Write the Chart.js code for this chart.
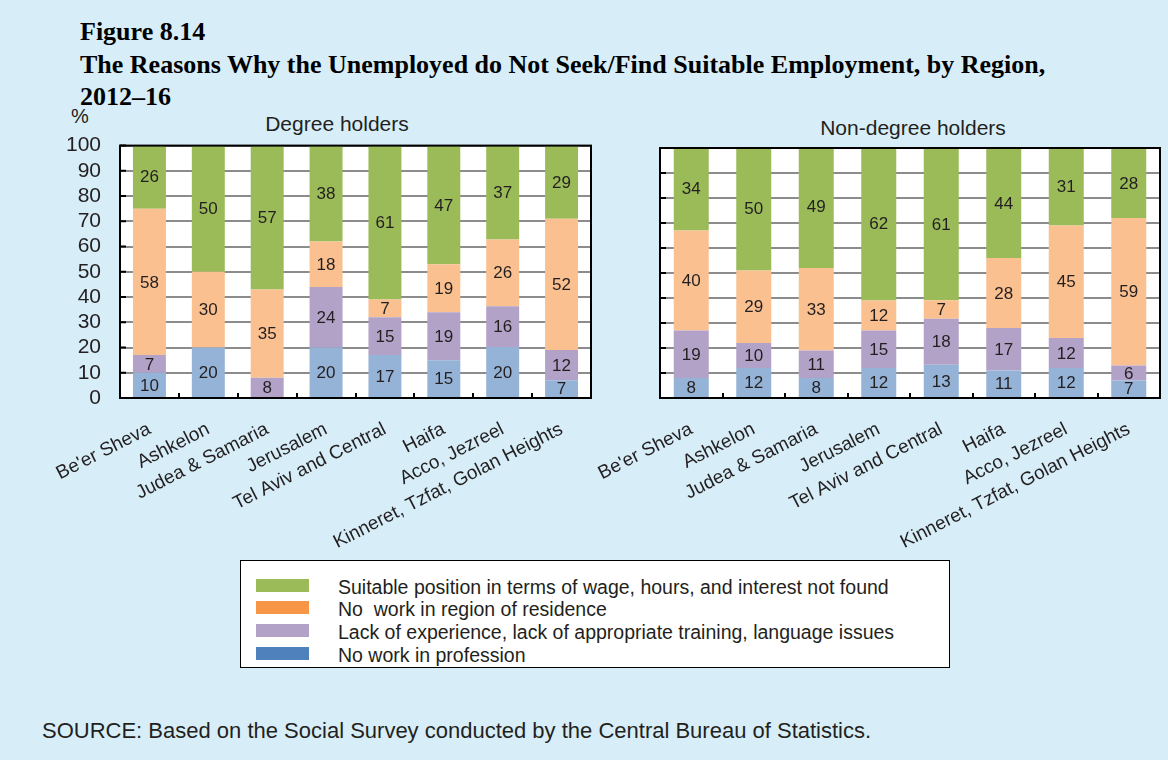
<!DOCTYPE html>
<html>
<head>
<meta charset="utf-8">
<script src="https://cdn.jsdelivr.net/npm/chart.js@4.4.1/dist/chart.umd.min.js"></script>
<style>
body { margin: 0; }
#page { position: relative; width: 1168px; height: 760px; background: #d7eef9; overflow: hidden;
        font-family: "Liberation Sans", Arial, sans-serif; color: #231f20; }
#title { position: absolute; left: 80px; top: 16px; font-family: "Liberation Serif", "Times New Roman", serif;
         font-weight: bold; font-size: 26px; line-height: 32.5px; color: #000; }
.panel-title { position: absolute; font-size: 21px; line-height: 24px; transform: translateX(-50%); white-space: nowrap; }
#pct { position: absolute; left: 71px; top: 104px; font-size: 20px; line-height: 24px; }
canvas { position: absolute; }
#legend { position: absolute; left: 240px; top: 560px; width: 710px; height: 108px; background: #fff;
          border: 1.5px solid #000; box-sizing: border-box; }
.leg-row { position: absolute; left: 0; height: 22px; }
.leg-swatch { position: absolute; left: 15px; top: 3px; width: 53px; height: 13px; }
.leg-text { position: absolute; left: 97px; top: 0; font-size: 19.5px; line-height: 22px; white-space: pre; }
#source { position: absolute; left: 42px; top: 718px; font-size: 22px; line-height: 26px; }
</style>
</head>
<body>
<div id="page">
  <div id="title">Figure 8.14<br>The Reasons Why the Unemployed do Not Seek/Find Suitable Employment, by Region,<br>2012–16</div>
  <div id="pct">%</div>
  <div class="panel-title" style="left:337px; top:112px;">Degree holders</div>
  <div class="panel-title" style="left:913px; top:116px;">Non-degree holders</div>
  <canvas id="degreeChart" width="600" height="440" style="left:0px; top:114px;"></canvas>
  <canvas id="nonDegreeChart" width="608" height="440" style="left:560px; top:118px;"></canvas>
  <div id="legend"></div>
  <div id="source">SOURCE: Based on the Social Survey conducted by the Central Bureau of Statistics.</div>
</div>
<script>
// 地域（カテゴリ）
const regions = ["Be'er Sheva", "Ashkelon", "Judea & Samaria", "Jerusalem", "Tel Aviv and Central",
                 "Haifa", "Acco, Jezreel", "Kinneret, Tzfat, Golan Heights"];

// 凡例の名前（上から順）
const seriesNames = [
    "Suitable position in terms of wage, hours, and interest not found",
    "No  work in region of residence",
    "Lack of experience, lack of appropriate training, language issues",
    "No work in profession"
];

// 学位保持者 (%)  ※表示は四捨五入した整数
const degreeProfession = [10, 20, 0, 20, 17, 15, 20.2, 7];
const degreeExperience = [7, 0, 8, 24, 15, 19, 16.2, 12];
const degreeRegion = [58, 30, 35, 18, 7, 19, 26.4, 52];
const degreeSuitable = [26, 50, 57, 38, 61, 47, 37.2, 29];

// 学位なし (%)
const nonProfession = [8, 12, 8, 12, 13.3, 11, 12, 7];
const nonExperience = [19, 10, 11, 15, 18.4, 17, 12, 6];
const nonRegion = [40, 29, 33, 12, 7.4, 28, 45, 59];
const nonSuitable = [34, 50, 49, 62, 60.9, 44, 31, 28];

// y軸
const yMin = 0;
const yMax = 100;
const yStep = 10;

// 色
const barColors = { suitable: "#9bbb59", region: "#fac090", experience: "#b3a2c7", profession: "#95b3d7" };
const legendColors = ["#9bbb59", "#f79646", "#b3a2c7", "#4f81bd"];

const FONT = '"Liberation Sans", Arial, sans-serif';

// 各セグメントの中央に値を描く
const segmentLabels = {
    id: "segmentLabels",
    afterDatasetsDraw(chart) {
        const ctx = chart.ctx;
        ctx.save();
        ctx.font = "17px " + FONT;
        ctx.fillStyle = "#231f20";
        ctx.textAlign = "center";
        ctx.textBaseline = "middle";
        chart.data.datasets.forEach((ds, i) => {
            chart.getDatasetMeta(i).data.forEach((bar, j) => {
                const v = Math.round(ds.data[j]);
                if (!v) return;
                ctx.fillText(String(v), bar.x, (bar.y + bar.base) / 2 + 1);
            });
        });
        ctx.restore();
    }
};

// プロット領域の白背景と黒枠、内向きの小さな目盛り
const plotFrame = {
    id: "plotFrame",
    beforeDraw(chart) {
        const a = chart.chartArea;
        const ctx = chart.ctx;
        ctx.save();
        ctx.fillStyle = "#fff";
        ctx.fillRect(a.left, a.top, a.right - a.left, a.bottom - a.top);
        ctx.restore();
    },
    afterDraw(chart) {
        const a = chart.chartArea;
        const ctx = chart.ctx;
        const xs = chart.scales.x;
        const ys = chart.scales.y;
        ctx.save();
        ctx.strokeStyle = "#000";
        ctx.lineWidth = 2;
        ctx.strokeRect(a.left, a.top, a.right - a.left, a.bottom - a.top);
        ctx.beginPath();
        for (let i = 1; i < regions.length; i++) {
            const x = Math.round((xs.getPixelForValue(i - 1) + xs.getPixelForValue(i)) / 2);
            ctx.moveTo(x, a.bottom);
            ctx.lineTo(x, a.bottom - 5);
        }
        ys.ticks.forEach(t => {
            const y = ys.getPixelForValue(t.value);
            ctx.moveTo(a.left, y);
            ctx.lineTo(a.left + 6, y);
        });
        ctx.stroke();
        ctx.restore();
    }
};

function makeDatasets(profession, experience, region, suitable) {
    return [
        { label: seriesNames[3], data: profession, backgroundColor: barColors.profession },
        { label: seriesNames[2], data: experience, backgroundColor: barColors.experience },
        { label: seriesNames[1], data: region, backgroundColor: barColors.region },
        { label: seriesNames[0], data: suitable, backgroundColor: barColors.suitable }
    ];
}

function makeChart(id, datasets, opts) {
    return new Chart(document.getElementById(id), {
        type: "bar",
        data: { labels: regions, datasets: datasets },
        options: {
            responsive: false,
            animation: false,
            datasets: { bar: { barPercentage: 0.56, categoryPercentage: 1 } },
            layout: { padding: opts.padding },
            plugins: { legend: { display: false }, tooltip: { enabled: false }, title: { display: false } },
            scales: {
                x: {
                    stacked: true,
                    grid: { display: false },
                    border: { display: false },
                    ticks: {
                        autoSkip: false, minRotation: 27, maxRotation: 27, padding: 12,
                        color: "#231f20", font: { family: FONT, size: 19 }
                    },
                    afterFit(scale) { scale.height = 150; }
                },
                y: {
                    stacked: true,
                    min: yMin, max: yMax,
                    grid: { color: "#8c8c8c", lineWidth: 2, drawTicks: false },
                    border: { display: false },
                    ticks: {
                        display: opts.showTicks, stepSize: yStep, autoSkip: false, padding: 19,
                        color: "#231f20", font: { family: FONT, size: 21 }
                    },
                    afterFit(scale) { scale.width = opts.yWidth; }
                }
            }
        },
        plugins: [plotFrame, segmentLabels]
    });
}

// 左: 学位保持者（y目盛りの上余白で位置が決まる）
makeChart("degreeChart",
    makeDatasets(degreeProfession, degreeExperience, degreeRegion, degreeSuitable),
    { padding: { top: 0, right: 9, bottom: 6, left: 0 }, yWidth: 120, showTicks: true });

// 右: 学位なし
makeChart("nonDegreeChart",
    makeDatasets(nonProfession, nonExperience, nonRegion, nonSuitable),
    { padding: { top: 30, right: 8, bottom: 10, left: 0 }, yWidth: 100, showTicks: false });

// 凡例
const legendEl = document.getElementById("legend");
const rowTops = [15, 37, 60, 83];
seriesNames.forEach((name, i) => {
    const row = document.createElement("div");
    row.className = "leg-row";
    row.style.top = rowTops[i] + "px";
    row.innerHTML = '<div class="leg-swatch" style="background:' + legendColors[i] + '"></div>' +
                    '<div class="leg-text"></div>';
    row.querySelector(".leg-text").textContent = name;
    legendEl.appendChild(row);
});
</script>
</body>
</html>
